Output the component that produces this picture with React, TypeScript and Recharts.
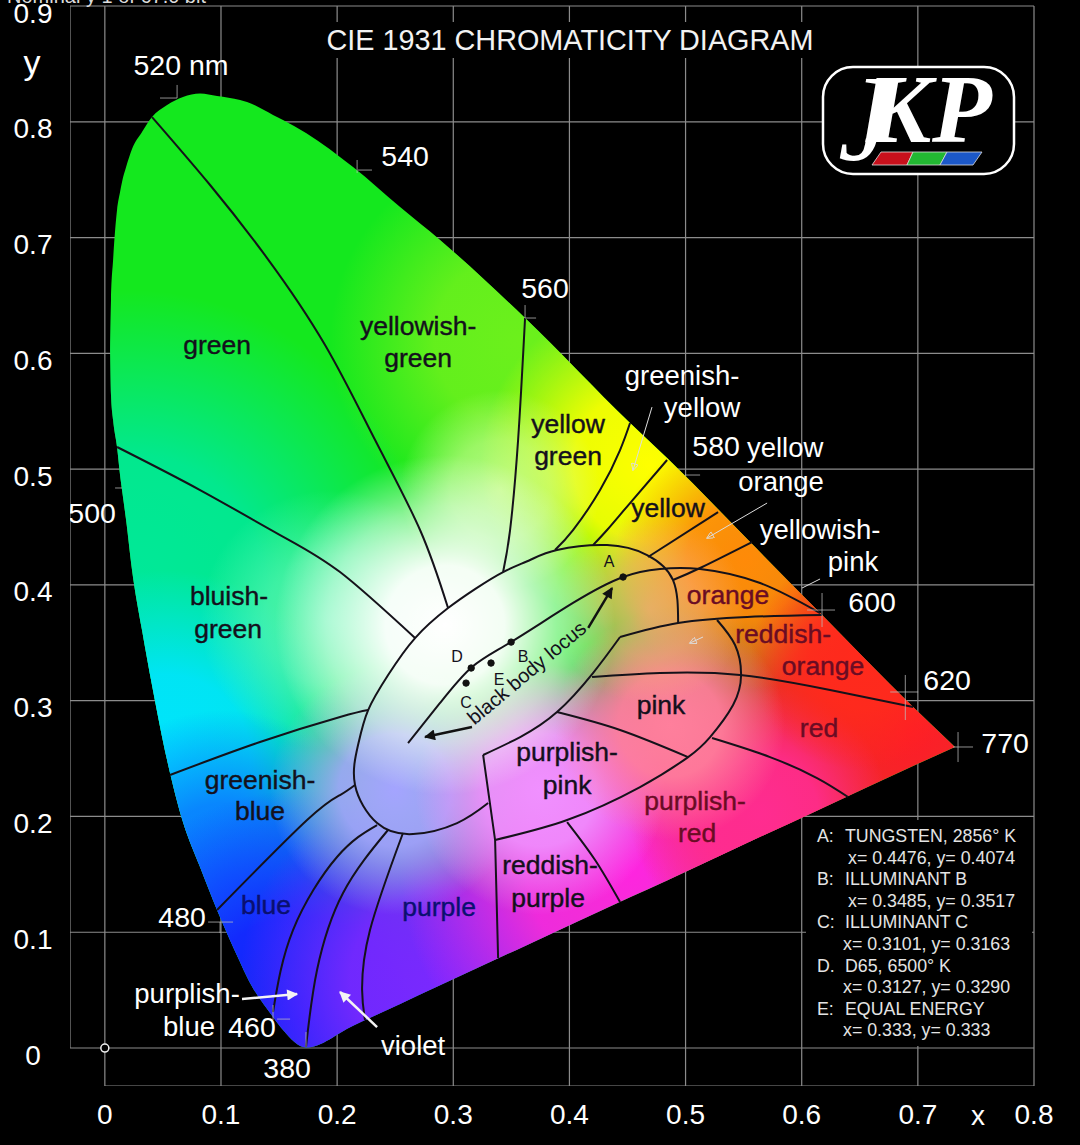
import React from 'react';
import { ComposedChart, Area, Line, XAxis, YAxis, CartesianGrid } from 'recharts';

// chromaticity outline, upper and lower edge per x
const gamutX = [0.0045, 0.0053, 0.0071, 0.0105, 0.0131, 0.0148, 0.0183, 0.0234, 0.032, 0.0406, 0.0536, 0.0673, 0.082, 0.0966, 0.1164, 0.1224, 0.1448, 0.1534, 0.1732, 0.2137, 0.2542, 0.2886, 0.3618, 0.4522, 0.4841, 0.5555, 0.6158, 0.6959, 0.732];
const gamutTop = [0.6029, 0.6461, 0.6806, 0.7238, 0.7393, 0.748, 0.7609, 0.7765, 0.7912, 0.8041, 0.8145, 0.8214, 0.8244, 0.8222, 0.8188, 0.8171, 0.8059, 0.8015, 0.7903, 0.7609, 0.7264, 0.6979, 0.6305, 0.5398, 0.5096, 0.437, 0.3757, 0.2945, 0.26];
const gamutBottom = [0.6029, 0.564, 0.5424, 0.5191, 0.4949, 0.4819, 0.456, 0.4129, 0.361, 0.3135, 0.2487, 0.1952, 0.1563, 0.1192, 0.0743, 0.0613, 0.0268, 0.0155, 0.0004, 0.0193, 0.0381, 0.0542, 0.0882, 0.1302, 0.1447, 0.1783, 0.2063, 0.2436, 0.26];
const gamutRows = gamutX.map((x, i) => ({ x, band: [gamutBottom[i], gamutTop[i]] }));

const xTicks = [0, 0.1, 0.2, 0.3, 0.4, 0.5, 0.6, 0.7, 0.8];
const yTicks = [0, 0.1, 0.2, 0.3, 0.4, 0.5, 0.6, 0.7, 0.8, 0.9];

type Pair = [number, number];

const ridgeGreen: Pair[] = [[0.0406, 0.8041], [0.0906, 0.7454], [0.1397, 0.6823], [0.1896, 0.6072], [0.2327, 0.5251], [0.2714, 0.4474], [0.2955, 0.38]];
const ridgeYellowGreen: Pair[] = [[0.3429, 0.4111], [0.3489, 0.4474], [0.3558, 0.5251], [0.3618, 0.6305]];
const ridgeGreenishA: Pair[] = [[0.3876, 0.4301], [0.4031, 0.4474], [0.4264, 0.4819], [0.4436, 0.5165], [0.4522, 0.5398]];
const ridgeGreenishB: Pair[] = [[0.4203, 0.4344], [0.4324, 0.4474], [0.4522, 0.4707], [0.4841, 0.5079]];
const ridgeOrangeA: Pair[] = [[0.4677, 0.4241], [0.528, 0.4629]];
const ridgeOrangeB: Pair[] = [[0.4892, 0.4042], [0.5125, 0.4146], [0.5572, 0.437]];
const ridgeBluish: Pair[] = [[0.0105, 0.5191], [0.082, 0.4819], [0.1509, 0.4431], [0.2025, 0.4111], [0.2671, 0.3541]];
const ridgeCyan: Pair[] = [[0.0561, 0.2358], [0.1336, 0.2643], [0.2025, 0.2859], [0.2267, 0.2919]];
const ridgeBlue: Pair[] = [[0.0966, 0.1192], [0.1741, 0.1969], [0.2025, 0.2185], [0.2154, 0.2272]];
const ridgeViolet1: Pair[] = [[0.1448, 0.0311], [0.162, 0.1019], [0.1999, 0.165], [0.2344, 0.1926]];
const ridgeViolet2: Pair[] = [[0.1732, 0.0009], [0.1827, 0.0674], [0.2051, 0.1339], [0.2438, 0.1883]];
const ridgeViolet3: Pair[] = [[0.224, 0.0242], [0.2215, 0.0501], [0.2283, 0.1019], [0.2567, 0.1857]];
const whiteOval: Pair[] = [[0.4936, 0.3671], [0.4892, 0.4042], [0.4669, 0.4258], [0.4324, 0.4344], [0.3893, 0.4301], [0.3661, 0.4215], [0.3429, 0.4111], [0.3187, 0.3964], [0.2955, 0.38], [0.2671, 0.3541], [0.2439, 0.3222], [0.2267, 0.2919], [0.218, 0.2617], [0.2154, 0.2272], [0.2344, 0.1943], [0.2654, 0.1848], [0.3033, 0.1943], [0.33, 0.2116]];
const innerA: Pair[] = [[0.3257, 0.2531], [0.3576, 0.2686], [0.3893, 0.2902], [0.4203, 0.3239], [0.4436, 0.355]];
const innerB: Pair[] = [[0.4436, 0.355], [0.4936, 0.3671], [0.553, 0.3723], [0.6175, 0.374]];
const pinkOval: Pair[] = [[0.5271, 0.3697], [0.5426, 0.3481], [0.5478, 0.3222], [0.5409, 0.2963], [0.5211, 0.2686], [0.5022, 0.2513], [0.4608, 0.2254], [0.398, 0.1969], [0.336, 0.1797]];
const ridgePinkRed: Pair[] = [[0.4195, 0.3204], [0.478, 0.3239], [0.5469, 0.3222], [0.6244, 0.3092], [0.6959, 0.2945]];
const ridgePinkPurple: Pair[] = [[0.3893, 0.2902], [0.4436, 0.2747], [0.5022, 0.2513]];
const ridgeRedPurple: Pair[] = [[0.5228, 0.2677], [0.5727, 0.2513], [0.6132, 0.2332], [0.6399, 0.2168]];
const ridgeMagenta: Pair[] = [[0.398, 0.1952], [0.4221, 0.1624], [0.4436, 0.1261]];
const blackBodyLocus: Pair[] = [[0.2611, 0.2634], [0.2886, 0.298], [0.3161, 0.3291], [0.3497, 0.3507], [0.4031, 0.3844], [0.4462, 0.4068], [0.478, 0.4137], [0.5125, 0.4137], [0.5642, 0.4016], [0.6158, 0.3757]];
const curvedRidges = [ridgeGreen, ridgeYellowGreen, ridgeGreenishA, ridgeGreenishB, ridgeOrangeB, ridgeBluish, ridgeCyan, ridgeBlue, ridgeViolet1, ridgeViolet2, ridgeViolet3, whiteOval, innerA, innerB, pinkOval, ridgePinkRed, ridgePinkPurple, ridgeRedPurple, ridgeMagenta, blackBodyLocus];
const purpleStem: Pair[] = [[0.3257, 0.2531], [0.336, 0.1797], [0.3386, 0.0777]];
const straightRidges = [purpleStem, ridgeOrangeA];

const blackArrows: Pair[][] = [
  [[0.4162, 0.3628], [0.4367, 0.3973]],
  [[0.3161, 0.2772], [0.2757, 0.2686]],
];
const whiteArrows: Pair[][] = [
  [[0.1181, 0.0423], [0.1655, 0.0466]],
  [[0.2344, 0.0181], [0.2025, 0.0484]],
];
const thinArrows: Pair[][] = [
  [[0.4711, 0.5536], [0.4548, 0.4992]],
  [[0.5702, 0.4707], [0.5186, 0.4405]],
  [[0.5150, 0.355], [0.5038, 0.3498]],
];
const pointerLine: Pair[] = [[0.6158, 0.4051], [0.6003, 0.3973]];

// little crosses marking wavelengths on the outline
const wavelengthMarks: Pair[][] = [
  [[0.0475, 0.8205], [0.0622, 0.8205]], [[0.0622, 0.8318], [0.0622, 0.8205]],
  [[0.2172, 0.767], [0.2172, 0.7557]], [[0.218, 0.7583], [0.23, 0.7583]],
  [[0.3618, 0.6417], [0.3618, 0.6305]], [[0.3618, 0.6305], [0.3713, 0.6305]],
  [[0.4995, 0.4949], [0.5125, 0.4949]],
  [[0.6175, 0.393], [0.6175, 0.3636]], [[0.6046, 0.3783], [0.6287, 0.3783]],
  [[0.6892, 0.3222], [0.6892, 0.2833]], [[0.6762, 0.3075], [0.7003, 0.3075]],
  [[0.7346, 0.2729], [0.7346, 0.247]], [[0.7303, 0.26], [0.7475, 0.26]],
  [[0.0889, 0.1088], [0.1104, 0.1088]], [[0.0992, 0.1088], [0.0992, 0.0993]],
  [[0.1448, 0.0371], [0.1448, 0.0242]], [[0.1483, 0.025], [0.1595, 0.025]],
  [[0.1732, 0.0138], [0.1732, 0.0009]],
  [[0.0088, 0.4837], [0.0148, 0.4837]],
];
const frameLeft: Pair[] = [[-0.03, 0], [-0.03, 0.9]];
const frameBottom: Pair[] = [[0, -0.0328], [0.8, -0.0328]];

const illuminants = [
  { x: 0.4462, y: 0.4068 },
  { x: 0.3498, y: 0.3506 },
  { x: 0.311, y: 0.3152 },
  { x: 0.3154, y: 0.3282 },
  { x: 0.3325, y: 0.3325 },
];
const origin = [{ x: 0, y: 0 }];

const regionNames = [
  { x: 0.0966, y: 0.5994, t: 'green' },
  { x: 0.2697, y: 0.6158, t: 'yellowish-' },
  { x: 0.2697, y: 0.5882, t: 'green' },
  { x: 0.3988, y: 0.5312, t: 'yellow' },
  { x: 0.3988, y: 0.5035, t: 'green' },
  { x: 0.4849, y: 0.4586, t: 'yellow' },
  { x: 0.1069, y: 0.3826, t: 'bluish-' },
  { x: 0.1061, y: 0.3541, t: 'green' },
  { x: 0.1336, y: 0.2237, t: 'greenish-' },
  { x: 0.1336, y: 0.1969, t: 'blue' },
  { x: 0.3833, y: 0.1503, t: 'reddish-' },
  { x: 0.3816, y: 0.1218, t: 'purple' },
  { x: 0.398, y: 0.2479, t: 'purplish-' },
  { x: 0.398, y: 0.2194, t: 'pink' },
  { x: 0.4789, y: 0.2885, t: 'pink' },
];
const warmNames = [
  { x: 0.5366, y: 0.3835, t: 'orange' },
  { x: 0.584, y: 0.3498, t: 'reddish-' },
  { x: 0.6184, y: 0.3222, t: 'orange' },
  { x: 0.6149, y: 0.2686, t: 'red' },
  { x: 0.5082, y: 0.2056, t: 'purplish-' },
  { x: 0.5099, y: 0.1779, t: 'red' },
];
const coolNames = [
  { x: 0.1388, y: 0.1157, t: 'blue' },
  { x: 0.2878, y: 0.114, t: 'purple' },
];
const pointNames = [
  { x: 0.4341, y: 0.4154, t: 'A' },
  { x: 0.3033, y: 0.3334, t: 'D' },
  { x: 0.3601, y: 0.3334, t: 'B' },
  { x: 0.3394, y: 0.3135, t: 'E' },
  { x: 0.311, y: 0.2937, t: 'C' },
];
const locusName = [{ x: 0.367, y: 0.3196, t: 'black body locus' }];
const outerWords = [
  { x: 0.497, y: 0.5726, t: 'greenish-' },
  { x: 0.5142, y: 0.545, t: 'yellow' },
  { x: 0.5857, y: 0.5105, t: 'yellow' },
  { x: 0.5822, y: 0.4811, t: 'orange' },
  { x: 0.6158, y: 0.4396, t: 'yellowish-' },
  { x: 0.6442, y: 0.412, t: 'pink' },
  { x: 0.0708, y: 0.0389, t: 'purplish-' },
  { x: 0.0725, y: 0.0104, t: 'blue' },
  { x: 0.2654, y: -0.006, t: 'violet' },
];
const outerNumbers = [
  { x: 0.0656, y: 0.8404, t: '520 nm' },
  { x: 0.2585, y: 0.7618, t: '540' },
  { x: 0.379, y: 0.6478, t: '560' },
  { x: 0.5263, y: 0.5113, t: '580' },
  { x: 0.6606, y: 0.3766, t: '600' },
  { x: 0.7252, y: 0.3092, t: '620' },
  { x: 0.7751, y: 0.2548, t: '770' },
  { x: -0.011, y: 0.4534, t: '500' },
  { x: 0.0665, y: 0.1045, t: '480' },
  { x: 0.1267, y: 0.0095, t: '460' },
  { x: 0.1569, y: -0.0259, t: '380' },
];

const noteLines = [
  ['A:', 'TUNGSTEN, 2856° K'],
  ['', 'x= 0.4476, y= 0.4074'],
  ['B:', 'ILLUMINANT B'],
  ['', 'x= 0.3485, y= 0.3517'],
  ['C:', 'ILLUMINANT C'],
  ['', 'x= 0.3101, y= 0.3163'],
  ['D.', 'D65, 6500° K'],
  ['', 'x= 0.3127, y= 0.3290'],
  ['E:', 'EQUAL ENERGY'],
  ['', 'x= 0.333, y= 0.333'],
];

const FONT = '"Liberation Sans", Arial, sans-serif';
const SERIF = '"Liberation Serif", serif';
const toRows = (pairs: Pair[]) => pairs.map(([x, y]) => ({ x, y }));

const textDot = (fill: string, size: number, angle = 0, weight = 0) => (p: any) => (
  <text
    key={p.index}
    x={p.cx}
    y={p.cy}
    fill={fill}
    stroke={weight ? fill : undefined}
    strokeWidth={weight || undefined}
    fontSize={size}
    fontFamily={FONT}
    textAnchor="middle"
    transform={angle ? `rotate(${angle} ${p.cx} ${p.cy})` : undefined}
  >
    {p.payload.t}
  </text>
);

const glow = (id: string, cx: number, cy: number, r: number, color: string, stops: number[][]) => (
  <radialGradient id={id} gradientUnits="userSpaceOnUse" cx={cx} cy={cy} r={r}>
    {stops.map(([o, a]) => (
      <stop key={o} offset={o} stopColor={color} stopOpacity={a} />
    ))}
  </radialGradient>
);

const soft = [[0, 1], [0.45, 0.9], [1, 0]];
const faint = [[0, 0.8], [0.5, 0.55], [1, 0]];
const layers = ['lime', 'teal', 'cyan', 'azure', 'blue', 'violet', 'magenta', 'red', 'hot', 'yellow', 'orange', 'red2', 'mint', 'cream', 'lavender', 'orchid', 'rose', 'salmon', 'white'];

export default function App() {
  return (
    <div style={{ position: 'absolute', left: 0, top: 0, width: 1080, height: 1145, background: '#000' }}>
      <ComposedChart width={1080} height={1145} data={gamutRows} margin={{ top: 6, right: 46, bottom: 0, left: 0 }}>
        <defs>
          {glow('lime', 520, 340, 190, '#6cf01c', soft)}
          {glow('teal', 130, 590, 300, '#00e89a', soft)}
          {glow('cyan', 165, 760, 190, '#00e4ff', soft)}
          {glow('azure', 225, 880, 170, '#0a7cff', soft)}
          {glow('blue', 300, 1020, 230, '#1420ff', soft)}
          {glow('violet', 440, 980, 200, '#7a28ff', soft)}
          {glow('magenta', 630, 870, 230, '#ff24e0', soft)}
          {glow('red', 910, 730, 300, '#ff1c28', soft)}
          {glow('hot', 760, 815, 130, '#ff2c90', soft)}
          {glow('yellow', 650, 465, 170, '#ffff00', soft)}
          {glow('orange', 745, 560, 130, '#ff8a08', soft)}
          {glow('red2', 860, 660, 110, '#ff2a1c', soft)}
          {glow('mint', 330, 620, 130, '#6cf8bc', faint)}
          {glow('cream', 500, 490, 100, '#dcffa0', faint)}
          {glow('lavender', 395, 790, 125, '#a4a4ff', soft)}
          {glow('orchid', 540, 790, 125, '#f090ff', soft)}
          {glow('rose', 670, 725, 115, '#ff7f9c', soft)}
          {glow('salmon', 650, 610, 95, '#ffa878', faint)}
          {glow('white', 445, 625, 170, '#ffffff', [[0, 1], [0.35, 0.95], [0.7, 0.5], [1, 0]])}
          <marker id="headBlack" viewBox="0 0 10 10" refX="9" refY="5" markerWidth="22" markerHeight="11" markerUnits="userSpaceOnUse" orient="auto">
            <path d="M0 0 L10 5 L0 10 Z" fill="#111" />
          </marker>
          <marker id="headWhite" viewBox="0 0 10 10" refX="9" refY="5" markerWidth="26" markerHeight="11" markerUnits="userSpaceOnUse" orient="auto">
            <path d="M0 0 L10 5 L0 10 Z" fill="#f4f4f4" />
          </marker>
          <marker id="headThin" viewBox="0 0 10 10" refX="9" refY="5" markerWidth="16" markerHeight="7" markerUnits="userSpaceOnUse" orient="auto">
            <path d="M0 0 L10 5 L0 10 Z" fill="none" stroke="#ddd" strokeWidth="1.2" />
          </marker>
        </defs>
        <CartesianGrid stroke="#8c8c8c" strokeWidth={1.2} horizontalValues={yTicks} verticalValues={xTicks} />
        <XAxis
          dataKey="x"
          type="number"
          domain={[-0.03, 0.8]}
          ticks={xTicks}
          interval={0}
          height={59}
          allowDataOverflow
          axisLine={false}
          tickLine={false}
          tickSize={0}
          tickMargin={18}
          tick={{ fill: '#fff', fontSize: 28, fontFamily: FONT }}
        />
        <YAxis
          type="number"
          domain={[-0.0328, 0.9]}
          ticks={yTicks}
          interval={0}
          width={70}
          allowDataOverflow
          axisLine={false}
          tickLine={false}
          tick={(p: any) => (
            <text key={p.index} x={33} y={p.y + 16.5} fill="#fff" fontSize={28} fontFamily={FONT} textAnchor="middle">
              {p.payload.value}
            </text>
          )}
        />

        <g>
          <rect x={320} y={22} width={500} height={36} fill="#000" />
          <text x={570} y={50} fill="#f2f2f2" fontSize={28.8} fontFamily={FONT} textAnchor="middle">
            CIE 1931 CHROMATICITY DIAGRAM
          </text>
          <text x={32} y={74} fill="#fff" fontSize={34} fontFamily={FONT} textAnchor="middle">y</text>
          <text x={978} y={1125} fill="#fff" fontSize={28} fontFamily={FONT} textAnchor="middle">x</text>
          <text x={7} y={3} fill="#ddd" fontSize={20} fontFamily={FONT}>Nominal y 1 of 67.0 bit</text>
          <rect x={823} y={67} width={191} height={107} rx={30} fill="#000" stroke="#fff" strokeWidth={2.5} />
          <text x={838} y={160} fill="#fff" fontSize={122} fontStyle="italic" fontFamily={SERIF}>J</text>
          <text x={866} y={142} fill="#fff" fontSize={98} fontStyle="italic" fontWeight="bold" fontFamily={SERIF}>K</text>
          <text x={932} y={142} fill="#fff" fontSize={98} fontStyle="italic" fontWeight="bold" fontFamily={SERIF}>P</text>
          <polygon points="872,165 881,152 913,152 907,165" fill="#c8101c" stroke="#ddd" strokeWidth={0.8} />
          <polygon points="907,165 913,152 947,152 940,165" fill="#22b832" stroke="#ddd" strokeWidth={0.8} />
          <polygon points="940,165 947,152 982,152 973,165" fill="#1c58c8" stroke="#ddd" strokeWidth={0.8} />
          <rect x={806} y={820} width={226} height={226} fill="#000" />
          {noteLines.map(([head, body], i) => (
            <g key={i} fill="#e4e4e4" fontSize={17.8} fontFamily={FONT}>
              <text x={817} y={842 + i * 21.6}>{head}</text>
              <text x={i % 2 === 0 ? 845 : i < 5 ? 848 : 843} y={842 + i * 21.6}>{body}</text>
            </g>
          ))}
        </g>

        <Area dataKey="band" type="monotone" stroke="none" fill="#14e81e" fillOpacity={1} isAnimationActive={false} />
        {layers.map((id) => (
          <Area key={id} dataKey="band" type="monotone" stroke="none" fill={`url(#${id})`} fillOpacity={1} isAnimationActive={false} />
        ))}

        {[frameLeft, frameBottom].map((seg, i) => (
          <Line key={`frame${i}`} data={toRows(seg)} dataKey="y" stroke="#8c8c8c" strokeWidth={1.2} dot={false} isAnimationActive={false} />
        ))}
        {curvedRidges.map((r, i) => (
          <Line key={`ridge${i}`} data={toRows(r)} dataKey="y" type="natural" stroke="#15121a" strokeWidth={2} dot={false} isAnimationActive={false} />
        ))}
        {straightRidges.map((r, i) => (
          <Line key={`stem${i}`} data={toRows(r)} dataKey="y" stroke="#15121a" strokeWidth={2} dot={false} isAnimationActive={false} />
        ))}
        {wavelengthMarks.map((m, i) => (
          <Line key={`mark${i}`} data={toRows(m)} dataKey="y" stroke="#bdbdbd" strokeOpacity={0.75} strokeWidth={1} dot={false} isAnimationActive={false} />
        ))}
        {blackArrows.map((a, i) => (
          <Line key={`ba${i}`} data={toRows(a)} dataKey="y" stroke="#111" strokeWidth={2.5} markerEnd="url(#headBlack)" dot={false} isAnimationActive={false} />
        ))}
        {whiteArrows.map((a, i) => (
          <Line key={`wa${i}`} data={toRows(a)} dataKey="y" stroke="#f4f4f4" strokeWidth={2.5} markerEnd="url(#headWhite)" dot={false} isAnimationActive={false} />
        ))}
        {thinArrows.map((a, i) => (
          <Line key={`ta${i}`} data={toRows(a)} dataKey="y" stroke="#ddd" strokeWidth={1} markerEnd="url(#headThin)" dot={false} isAnimationActive={false} />
        ))}
        <Line data={toRows(pointerLine)} dataKey="y" stroke="#ddd" strokeWidth={1} dot={false} isAnimationActive={false} />

        <Line data={illuminants} dataKey="y" stroke="none" dot={{ r: 3.2, fill: '#111', stroke: '#111' }} isAnimationActive={false} />
        <Line data={origin} dataKey="y" stroke="none" dot={{ r: 4, fill: '#000', stroke: '#eee', strokeWidth: 1.5 }} isAnimationActive={false} />
        <Line data={regionNames} dataKey="y" stroke="none" dot={textDot('#14101c', 26.5, 0, 0.4)} isAnimationActive={false} />
        <Line data={warmNames} dataKey="y" stroke="none" dot={textDot('#6a0c24', 26.5, 0, 0.4)} isAnimationActive={false} />
        <Line data={coolNames} dataKey="y" stroke="none" dot={textDot('#0a1070', 26.5, 0, 0.4)} isAnimationActive={false} />
        <Line data={pointNames} dataKey="y" stroke="none" dot={textDot('#14101c', 16)} isAnimationActive={false} />
        <Line data={locusName} dataKey="y" stroke="none" dot={textDot('#14101c', 20, -40)} isAnimationActive={false} />
        <Line data={outerWords} dataKey="y" stroke="none" dot={textDot('#fff', 27.5)} isAnimationActive={false} />
        <Line data={outerNumbers} dataKey="y" stroke="none" dot={textDot('#fff', 28.5)} isAnimationActive={false} />
      </ComposedChart>
    </div>
  );
}
